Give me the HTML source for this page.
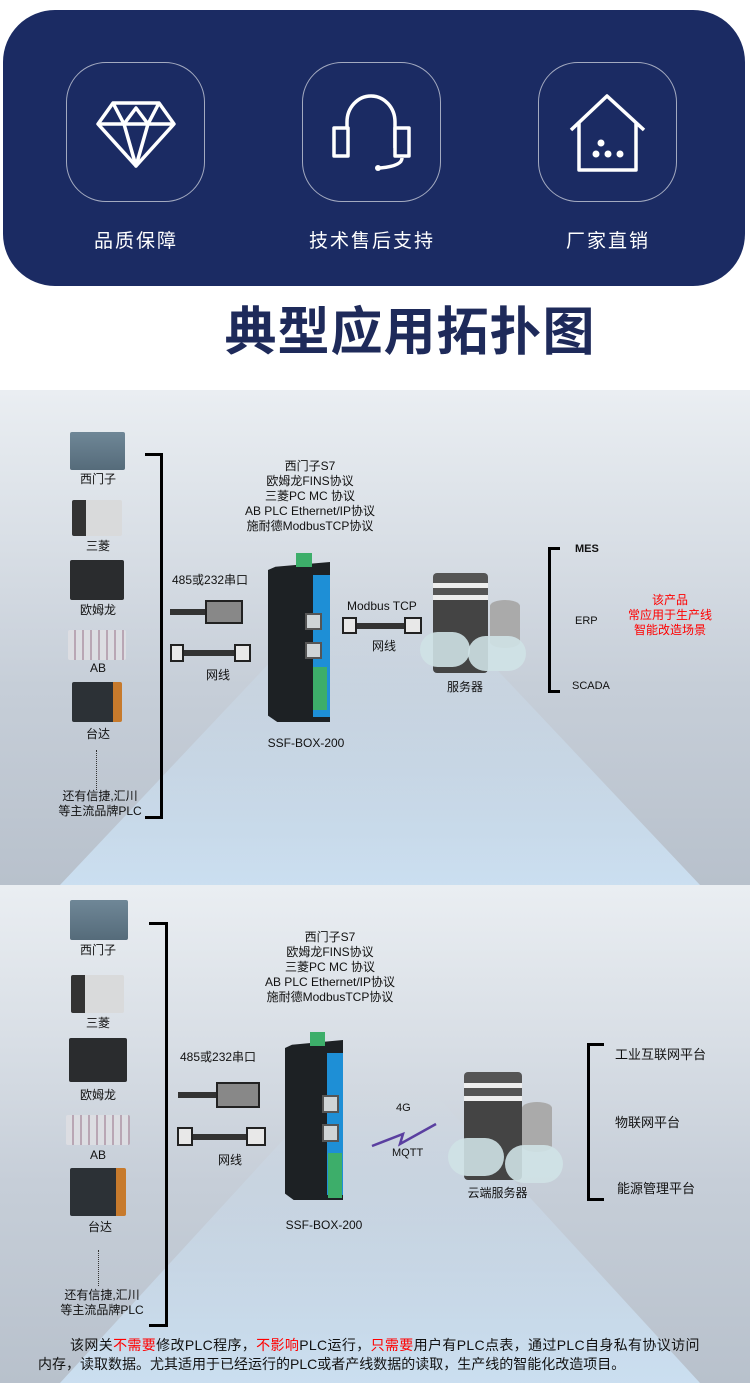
<!DOCTYPE html>
<html><head><meta charset="utf-8"><style>
*{margin:0;padding:0;box-sizing:border-box}
body{width:750px;height:1383px;position:relative;background:#fff;font-family:"Liberation Sans","Noto Sans CJK SC",sans-serif;overflow:hidden}
.a{position:absolute}
.t{position:absolute;font-size:12px;color:#111;white-space:nowrap;line-height:15px}
.c{text-align:center}
.box{position:absolute;width:139px;height:140px;border:1px solid rgba(255,255,255,.6);border-radius:40px}
.lab{position:absolute;color:#fff;font-size:19px;width:240px;text-align:center;letter-spacing:2px}
.bg{position:absolute;left:0;width:750px;background:linear-gradient(180deg,#eaeef2 0%,#d9dfe6 30%,#c6ced8 60%,#b8c1cc 100%)}
.floor{position:absolute;background:linear-gradient(180deg,rgba(215,232,245,.0),rgba(205,226,244,.9));clip-path:polygon(42% 0,58% 0,100% 100%,0 100%)}
.plc{position:absolute;border-radius:2px}
.dev{position:absolute;background:#1d2124;clip-path:polygon(12% 3%,100% 0,100% 100%,15% 100%,0 96%,0 5%)}
.blue{position:absolute;background:#1e8fd6}
.port{position:absolute;background:#cfd4d6;border:2px solid #555}
.green{position:absolute;background:#3dae6a}
.cab{position:absolute;height:6px;background:#333}
.plug{position:absolute;background:#e8e8e8;border:2px solid #222}
.brk{position:absolute;border:3.5px solid #000}
.red{color:#f00}
</style></head><body>
<div class="a" style="left:3px;top:10px;width:742px;height:276px;background:#1b2b63;border-radius:52px"></div>
<div class="box" style="left:66px;top:62px"></div>
<div class="box" style="left:302px;top:62px"></div>
<div class="box" style="left:538px;top:62px"></div>
<svg class="a" style="left:0;top:0" width="750" height="290">
<g fill="none" stroke="#fff" stroke-width="3.5" stroke-linejoin="round">
<polygon points="113,103 159,103 174,124 136,166 98,124"/>
<polyline points="98,124 174,124"/><polyline points="113,103 124,124 136,166 148,124 159,103"/><polyline points="124,124 136,108 148,124"/>
<path d="M347,148 V122 a24,26 0 0 1 48,0 V148"/>
<rect x="334" y="128" width="14" height="28" fill="#1b2b63"/><rect x="395" y="128" width="14" height="28" fill="#1b2b63"/>
<path d="M402,158 q0,8 -22,10"/>
<path d="M571,130 L607,96 L644,130 M579,122 V170 H636 V122"/>
</g>
<circle cx="378" cy="168" r="3" fill="#fff"/>
<g fill="#fff"><circle cx="601" cy="143" r="3.5"/><circle cx="596" cy="154" r="3.5"/><circle cx="608" cy="154" r="3.5"/><circle cx="620" cy="154" r="3.5"/></g>
</svg>
<div class="lab" style="left:16px;top:226px">品质保障</div>
<div class="lab" style="left:252px;top:226px">技术售后支持</div>
<div class="lab" style="left:488px;top:226px">厂家直销</div>
<div class="t c" style="left:35px;top:300px;width:750px;font-size:52px;line-height:66px;font-weight:bold;color:#1e2a5a;letter-spacing:1px">典型应用拓扑图</div>

<div class="bg" style="top:390px;height:495px"></div>
<div class="floor" style="left:60px;top:600px;width:640px;height:285px"></div>
<div class="bg" style="top:885px;height:498px"></div>
<div class="floor" style="left:60px;top:1090px;width:640px;height:293px"></div>

<div class="plc" style="left:70px;top:432px;width:55px;height:38px;background:linear-gradient(#6f8797,#556b7a)"></div>
<div class="t c" style="left:60px;top:472px;width:76px">西门子</div>
<div class="plc" style="left:72px;top:500px;width:50px;height:36px;background:#d9dadb;border-left:14px solid #333"></div>
<div class="t c" style="left:60px;top:539px;width:76px">三菱</div>
<div class="plc" style="left:70px;top:560px;width:54px;height:40px;background:#2a2c2e"></div>
<div class="t c" style="left:60px;top:603px;width:76px">欧姆龙</div>
<div class="plc" style="left:68px;top:630px;width:58px;height:30px;background:repeating-linear-gradient(90deg,#dcdde2 0 6px,#b9a6b4 6px 8px)"></div>
<div class="t c" style="left:60px;top:661px;width:76px">AB</div>
<div class="plc" style="left:72px;top:682px;width:50px;height:40px;background:#2c3136;border-right:9px solid #c77a2c"></div>
<div class="t c" style="left:60px;top:727px;width:76px">台达</div>
<div class="a" style="left:96px;top:750px;height:40px;border-left:1.5px dotted #333"></div>
<div class="t c" style="left:50px;top:789px;width:100px">还有信捷,汇川<br>等主流品牌PLC</div>
<div class="brk" style="left:145px;top:453px;width:18px;height:366px;border-left:none"></div>

<div class="t c" style="left:230px;top:459px;width:160px">西门子S7<br>欧姆龙FINS协议<br>三菱PC MC 协议<br>AB PLC Ethernet/IP协议<br>施耐德ModbusTCP协议</div>

<div class="t" style="left:172px;top:573px">485或232串口</div>
<div class="cab" style="left:170px;top:609px;width:40px"></div><div class="plug" style="left:205px;top:600px;width:38px;height:24px;background:#888"></div>
<div class="cab" style="left:178px;top:650px;width:60px"></div><div class="plug" style="left:170px;top:644px;width:14px;height:18px"></div><div class="plug" style="left:234px;top:644px;width:17px;height:18px"></div>
<div class="t c" style="left:190px;top:668px;width:56px">网线</div>

<div class="dev" style="left:268px;top:562px;width:62px;height:160px"></div>
<div class="blue" style="left:313px;top:575px;width:17px;height:142px"></div>
<div class="green" style="left:296px;top:553px;width:16px;height:14px"></div>
<div class="port" style="left:305px;top:613px;width:17px;height:17px"></div>
<div class="port" style="left:305px;top:642px;width:17px;height:17px"></div>
<div class="green" style="left:313px;top:667px;width:14px;height:43px"></div>
<div class="t c" style="left:256px;top:736px;width:100px">SSF-BOX-200</div>

<div class="t" style="left:347px;top:599px">Modbus TCP</div>
<div class="cab" style="left:350px;top:623px;width:70px"></div><div class="plug" style="left:342px;top:617px;width:15px;height:17px"></div><div class="plug" style="left:404px;top:617px;width:18px;height:17px"></div>
<div class="t c" style="left:356px;top:639px;width:56px">网线</div>

<div class="a" style="left:433px;top:573px;width:55px;height:100px;background:linear-gradient(180deg,#555 0 10%,#eee 10% 15%,#555 15% 22%,#eee 22% 27%,#444 27%);border-radius:4px"></div>
<div class="a" style="left:490px;top:600px;width:30px;height:48px;background:#aaa;border-radius:15px/6px"></div>
<div class="a" style="left:420px;top:632px;width:50px;height:35px;background:#cfe2e6;border-radius:25px;opacity:.9"></div>
<div class="a" style="left:468px;top:636px;width:58px;height:35px;background:#cfe2e6;border-radius:28px;opacity:.9"></div>
<div class="t c" style="left:430px;top:680px;width:70px">服务器</div>

<div class="brk" style="left:548px;top:547px;width:12px;height:146px;border-right:none"></div>
<div class="t" style="left:575px;top:542px;font-weight:bold;font-size:11px">MES</div>
<div class="t" style="left:575px;top:614px;font-size:11px">ERP</div>
<div class="t" style="left:572px;top:679px;font-size:11px">SCADA</div>
<div class="t c red" style="left:610px;top:593px;width:120px">该产品<br>常应用于生产线<br>智能改造场景</div>

<div class="plc" style="left:70px;top:900px;width:58px;height:40px;background:linear-gradient(#6f8797,#556b7a)"></div>
<div class="t c" style="left:60px;top:943px;width:76px">西门子</div>
<div class="plc" style="left:71px;top:975px;width:53px;height:38px;background:#d9dadb;border-left:14px solid #333"></div>
<div class="t c" style="left:60px;top:1016px;width:76px">三菱</div>
<div class="plc" style="left:69px;top:1038px;width:58px;height:44px;background:#2a2c2e"></div>
<div class="t c" style="left:60px;top:1088px;width:76px">欧姆龙</div>
<div class="plc" style="left:66px;top:1115px;width:64px;height:30px;background:repeating-linear-gradient(90deg,#dcdde2 0 6px,#b9a6b4 6px 8px)"></div>
<div class="t c" style="left:60px;top:1148px;width:76px">AB</div>
<div class="plc" style="left:70px;top:1168px;width:56px;height:48px;background:#2c3136;border-right:10px solid #c77a2c"></div>
<div class="t c" style="left:62px;top:1220px;width:76px">台达</div>
<div class="a" style="left:98px;top:1250px;height:36px;border-left:1.5px dotted #333"></div>
<div class="t c" style="left:52px;top:1288px;width:100px">还有信捷,汇川<br>等主流品牌PLC</div>
<div class="brk" style="left:149px;top:922px;width:19px;height:405px;border-left:none"></div>

<div class="t c" style="left:250px;top:930px;width:160px">西门子S7<br>欧姆龙FINS协议<br>三菱PC MC 协议<br>AB PLC Ethernet/IP协议<br>施耐德ModbusTCP协议</div>

<div class="t" style="left:180px;top:1050px">485或232串口</div>
<div class="cab" style="left:178px;top:1092px;width:45px"></div><div class="plug" style="left:216px;top:1082px;width:44px;height:26px;background:#888"></div>
<div class="cab" style="left:185px;top:1134px;width:70px"></div><div class="plug" style="left:177px;top:1127px;width:16px;height:19px"></div><div class="plug" style="left:246px;top:1127px;width:20px;height:19px"></div>
<div class="t c" style="left:202px;top:1153px;width:56px">网线</div>

<div class="dev" style="left:285px;top:1040px;width:58px;height:160px"></div>
<div class="blue" style="left:327px;top:1053px;width:16px;height:142px"></div>
<div class="green" style="left:310px;top:1032px;width:15px;height:14px"></div>
<div class="port" style="left:322px;top:1095px;width:17px;height:18px"></div>
<div class="port" style="left:322px;top:1124px;width:17px;height:18px"></div>
<div class="green" style="left:328px;top:1153px;width:14px;height:45px"></div>
<div class="t c" style="left:274px;top:1218px;width:100px">SSF-BOX-200</div>

<div class="t" style="left:396px;top:1101px;font-size:11px">4G</div>
<svg class="a" style="left:370px;top:1122px" width="70" height="26"><polyline points="2,24 33,12 30,22 66,2" fill="none" stroke="#5a3fa0" stroke-width="2.5"/></svg>
<div class="t" style="left:392px;top:1146px;font-size:11px">MQTT</div>

<div class="a" style="left:464px;top:1072px;width:58px;height:108px;background:linear-gradient(180deg,#555 0 10%,#eee 10% 15%,#555 15% 22%,#eee 22% 27%,#444 27%);border-radius:4px"></div>
<div class="a" style="left:522px;top:1102px;width:30px;height:50px;background:#aaa;border-radius:15px/6px"></div>
<div class="a" style="left:448px;top:1138px;width:56px;height:38px;background:#cfe2e6;border-radius:28px;opacity:.9"></div>
<div class="a" style="left:505px;top:1145px;width:58px;height:38px;background:#cfe2e6;border-radius:28px;opacity:.9"></div>
<div class="t c" style="left:455px;top:1186px;width:85px">云端服务器</div>

<div class="brk" style="left:587px;top:1043px;width:17px;height:158px;border-right:none"></div>
<div class="t" style="left:615px;top:1047px;font-size:13px">工业互联网平台</div>
<div class="t" style="left:615px;top:1115px;font-size:13px">物联网平台</div>
<div class="t" style="left:617px;top:1181px;font-size:13px">能源管理平台</div>

<div class="t" style="left:38px;top:1336px;font-size:14px;line-height:19px;white-space:nowrap;width:700px">
<div style="padding-left:32px;letter-spacing:0.35px">该网关<span class="red">不需要</span>修改PLC程序，<span class="red">不影响</span>PLC运行，<span class="red">只需要</span>用户有PLC点表，通过PLC自身私有协议访问</div>
<div>内存，读取数据。尤其适用于已经运行的PLC或者产线数据的读取，生产线的智能化改造项目。</div>
</div>
</body></html>
